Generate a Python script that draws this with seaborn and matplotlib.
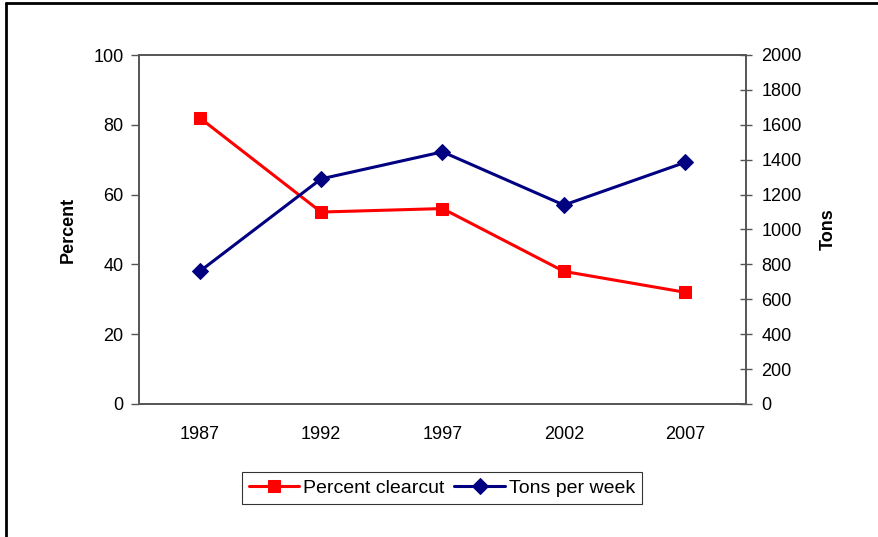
import pandas as pd
import seaborn as sns
import matplotlib.pyplot as plt
from matplotlib.lines import Line2D

# Data
years = ['1987', '1992', '1997', '2002', '2007']
percent_clearcut = [82, 55, 56, 38, 32]
tons_per_week = [760, 1290, 1445, 1140, 1385]

df = pd.DataFrame({'year': years, 'percent': percent_clearcut, 'tons': tons_per_week})

sns.set_style('white')
plt.rcParams['font.family'] = ['Liberation Sans', 'DejaVu Sans']
plt.rcParams['text.color'] = 'black'
plt.rcParams['axes.labelcolor'] = 'black'
plt.rcParams['xtick.color'] = 'black'
plt.rcParams['ytick.color'] = 'black'

fig = plt.figure(figsize=(8.79, 5.37), dpi=100)
ax = fig.add_axes([139 / 879, 133 / 537, 607 / 879, 349 / 537])
ax2 = ax.twinx()

sns.lineplot(data=df, x='year', y='percent', ax=ax, color='#FF0000', marker='s',
             markersize=8.5, markeredgecolor='#FF0000', linewidth=2.2, sort=False,
             label='Percent clearcut', legend=False)
sns.lineplot(data=df, x='year', y='tons', ax=ax2, color='#000080', marker='D',
             markersize=8, markeredgecolor='#000080', linewidth=2.2, sort=False,
             label='Tons per week', legend=False)

ax.set_xlim(-0.5, 4.5)
ax.set_ylim(0, 100)
ax2.set_ylim(0, 2000)
ax.set_yticks(range(0, 101, 20))
ax2.set_yticks(range(0, 2001, 200))

ax.set_xticks(range(len(years)))
ax.set_xticklabels(years)
ax.set_xticks([i + 0.5 for i in range(-1, len(years))], minor=True)
ax.tick_params(axis='x', which='major', length=0, labelsize=13, pad=16)
ax.tick_params(axis='x', which='minor', direction='inout', length=8, width=1, color='#555555')
ax.tick_params(axis='y', direction='out', length=6, width=1, color='#555555', labelsize=13, pad=5, left=True)
ax2.tick_params(axis='y', direction='inout', length=8, width=1, color='#555555', labelsize=13, pad=7, right=True)

ax.set_xlabel('')
ax.set_ylabel('Percent', fontsize=13, fontweight='bold', labelpad=12)
ax2.set_ylabel('Tons', fontsize=13, fontweight='bold', labelpad=13)

for a in (ax, ax2):
    for s in a.spines.values():
        s.set_color('#555555')
        s.set_linewidth(1.2)

handles = ax.get_lines()[:1] + ax2.get_lines()[:1]
leg = fig.legend(handles, ['Percent clearcut', 'Tons per week'], loc='center',
                 bbox_to_anchor=(442 / 879, 1 - 488 / 537), ncol=2, fontsize=14,
                 frameon=True, fancybox=False, edgecolor='black', handlelength=2.6,
                 handletextpad=0.2, columnspacing=0.5, borderpad=0.35)
leg.get_frame().set_linewidth(0.8)

# outer border (top and left only)
fig.add_artist(Line2D([6 / 879, 1], [1 - 3 / 537, 1 - 3 / 537], color='black', linewidth=2))
fig.add_artist(Line2D([6 / 879, 6 / 879], [0, 1 - 3 / 537], color='black', linewidth=2))

fig.savefig('out.png', dpi=100)
